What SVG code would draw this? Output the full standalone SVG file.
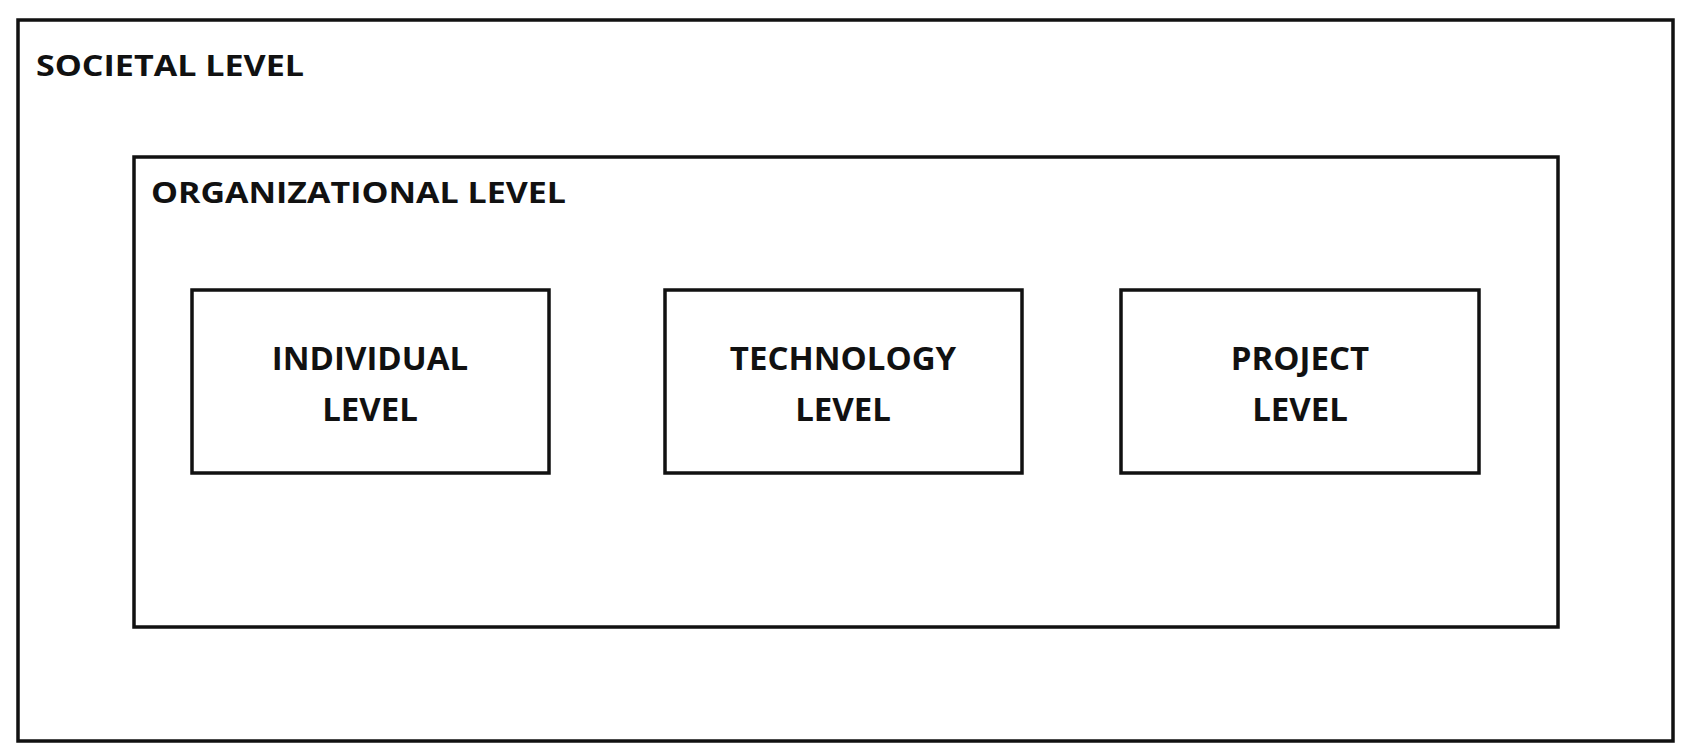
<svg xmlns="http://www.w3.org/2000/svg" width="1695" height="754" viewBox="0 0 1695 754">
<style>
rect{fill:none;stroke:#111;stroke-width:3.5}
text{font-family:"Open Sans","Liberation Sans",sans-serif;font-weight:bold;font-size:29px;fill:#111}
.c{text-anchor:middle;font-size:33px}
</style>
<rect width="1695" height="754" style="fill:#fff;stroke:none"/>
<g id="societal"><rect x="18" y="20" width="1655" height="721"/><text x="36" y="76" textLength="268" lengthAdjust="spacingAndGlyphs">SOCIETAL LEVEL</text></g>
<g id="organizational"><rect x="134" y="157" width="1424" height="470"/><text x="151" y="203" textLength="415" lengthAdjust="spacingAndGlyphs">ORGANIZATIONAL LEVEL</text></g>
<g id="individual"><rect x="192" y="290" width="357" height="183"/><text class="c" x="370" y="370">INDIVIDUAL</text><text class="c" x="370" y="421">LEVEL</text></g>
<g id="technology"><rect x="665" y="290" width="357" height="183"/><text class="c" x="843" y="370">TECHNOLOGY</text><text class="c" x="843" y="421">LEVEL</text></g>
<g id="project"><rect x="1121" y="290" width="358" height="183"/><text class="c" x="1300" y="370">PROJECT</text><text class="c" x="1300" y="421">LEVEL</text></g>
<g id="connectors"/>
</svg>
